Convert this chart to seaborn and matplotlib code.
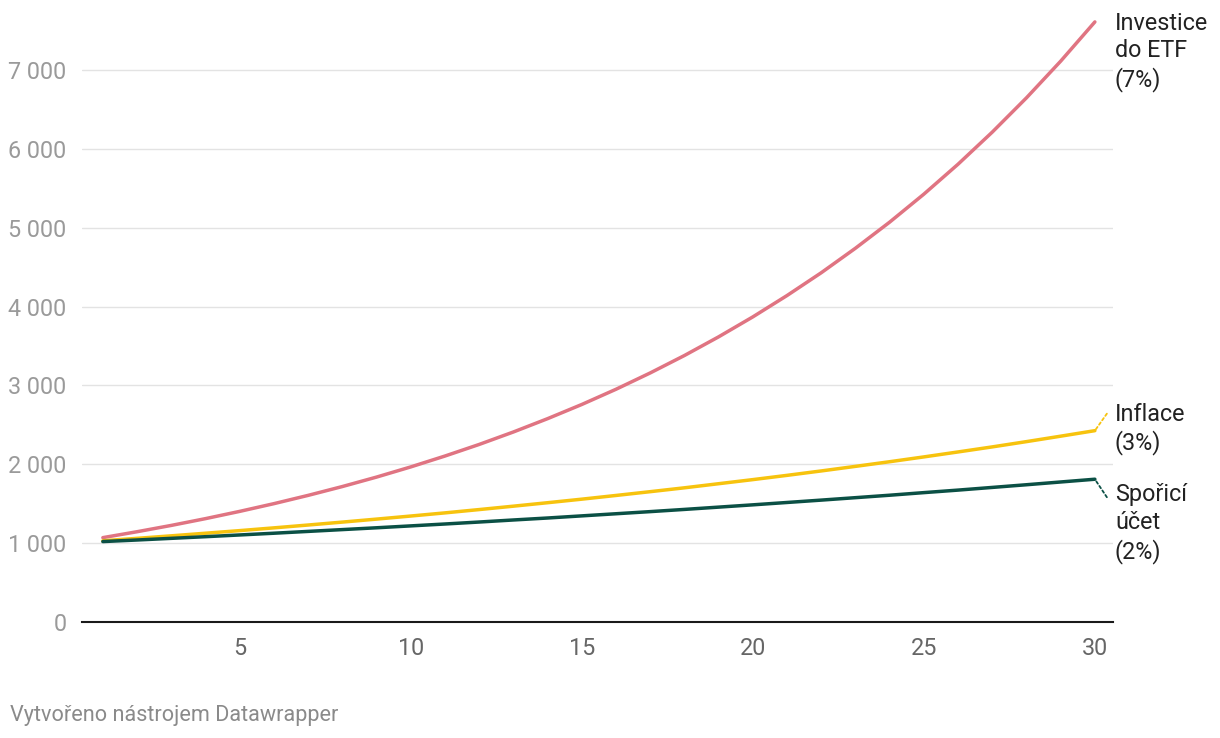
import seaborn as sns
import matplotlib.pyplot as plt
import pandas as pd

# Value of 1000 invested, year by year
years = list(range(1, 31))
etf_7 = [1070, 1145, 1225, 1311, 1403, 1501, 1606, 1718, 1838, 1967,
         2105, 2252, 2410, 2579, 2759, 2952, 3159, 3380, 3617, 3870,
         4141, 4430, 4741, 5072, 5427, 5807, 6214, 6649, 7114, 7612]
inflace_3 = [1030, 1061, 1093, 1126, 1159, 1194, 1230, 1267, 1305, 1344,
             1384, 1426, 1469, 1513, 1558, 1605, 1653, 1702, 1754, 1806,
             1860, 1916, 1974, 2033, 2094, 2157, 2221, 2288, 2357, 2427]
sporici_2 = [1020, 1040, 1061, 1082, 1104, 1126, 1149, 1172, 1195, 1219,
             1243, 1268, 1294, 1319, 1346, 1373, 1400, 1428, 1457, 1486,
             1516, 1546, 1577, 1608, 1641, 1673, 1707, 1741, 1776, 1811]

series_names = ["Investice\ndo ETF\n(7%)", "Inflace\n(3%)", "Spořicí\núčet\n(2%)"]
series_values = [etf_7, inflace_3, sporici_2]
colors = ["#e07482", "#f7c30e", "#0b5045"]
y_ticks = [0, 1000, 2000, 3000, 4000, 5000, 6000, 7000]
x_ticks = [5, 10, 15, 20, 25, 30]

df = pd.concat([pd.DataFrame({"rok": years, "hodnota": v, "serie": n})
                for n, v in zip(series_names, series_values)])

sns.set_theme(style="white")
plt.rcParams['font.family'] = ['Roboto', 'DejaVu Sans']

fig = plt.figure(figsize=(12.2, 7.38), dpi=100)
ax = fig.add_axes([0.0672, 0.1572, 0.9123 - 0.0672, 0.9797 - 0.1572])

sns.lineplot(data=df, x="rok", y="hodnota", hue="serie", palette=colors,
             linewidth=2.5, legend=False, ax=ax)

ax.set_xlim(0.39, 30.53)
ax.set_ylim(0, 7700)
ax.set_yticks(y_ticks)
ax.set_yticklabels([f"{t:,}".replace(",", " ") for t in y_ticks])
ax.set_xticks(x_ticks)
ax.set_xlabel("")
ax.set_ylabel("")
ax.grid(axis="y", color="#e3e3e3", linewidth=1)
ax.set_axisbelow(True)
for s in ["left", "right", "top"]:
    ax.spines[s].set_visible(False)
ax.spines["bottom"].set_color("#1a1a1a")
ax.spines["bottom"].set_linewidth(1.5)
ax.tick_params(axis="y", length=0, pad=11, labelsize=16.8, labelcolor="#9a9a9a")
ax.tick_params(axis="x", length=0, pad=11, labelsize=16.8, labelcolor="#666666")
for lab in ax.get_yticklabels():
    lab.set_horizontalalignment("right")

# direct labels at line ends (offsets in pixels)
label_offsets = [(20, 10), (20, 28), (20, -4)]
connectors = [None, (12, 17), (12, -18)]
for name, vals, col, off, con in zip(series_names, series_values, colors,
                                     label_offsets, connectors):
    end = (years[-1], vals[-1])
    ax.annotate(name, xy=end, xytext=off, textcoords="offset pixels",
                ha="left", va="top", fontsize=16.8, color="#222222",
                linespacing=1.25, annotation_clip=False)
    if con is not None:
        ax.annotate("", xy=end, xytext=con, textcoords="offset pixels",
                    annotation_clip=False,
                    arrowprops=dict(arrowstyle="-", color=col, linestyle=(0, (1.5, 1.5)),
                                    linewidth=1.3, shrinkA=0, shrinkB=0))

fig.text(10 / 1220, 1 - 715 / 738, "Vytvořeno nástrojem Datawrapper",
         ha="left", va="center", fontsize=15.6, color="#8a8a8a")

fig.savefig("out.png", dpi=100)
